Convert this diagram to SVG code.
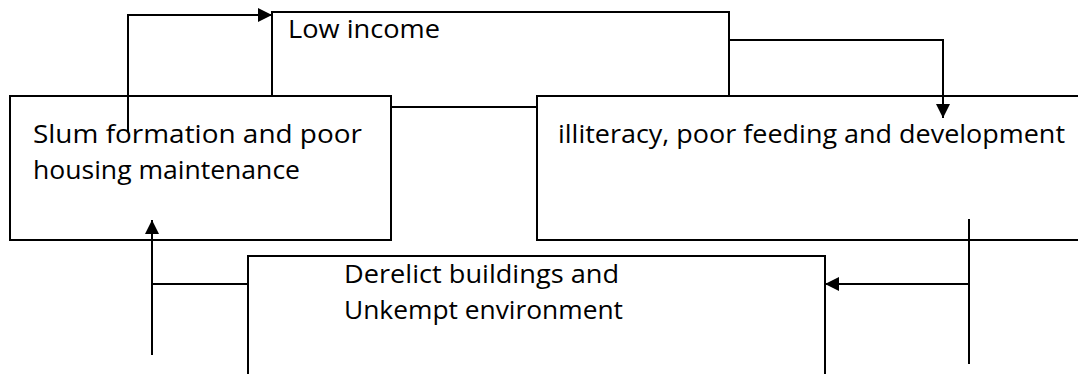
<svg xmlns="http://www.w3.org/2000/svg" width="1078" height="374" viewBox="0 0 1078 374">
<style>
.box{fill:#fff;stroke:#000;stroke-width:2}
.lbl{font-family:"Open Sans","Noto Sans",sans-serif;font-size:25px;fill:#000}
.con{fill:none;stroke:#000;stroke-width:2}
</style>
<defs>
<marker id="ah" viewBox="0 0 10 10" refX="10" refY="5" markerWidth="16" markerHeight="14" markerUnits="userSpaceOnUse" orient="auto">
<path d="M0,0 L10,5 L0,10 Z" fill="#000"/>
</marker>
</defs>
<rect width="1078" height="374" fill="#fff"/>
<g id="low-income">
<rect class="box" x="272" y="12" width="457" height="95"/>
<text class="lbl" x="288" y="38" textLength="152" lengthAdjust="spacingAndGlyphs">Low income</text>
</g>
<g id="slum">
<rect class="box" x="10" y="96" width="381" height="144"/>
<text class="lbl" x="33" y="143" textLength="329" lengthAdjust="spacingAndGlyphs">Slum formation and poor</text>
<text class="lbl" x="33" y="179" textLength="267" lengthAdjust="spacingAndGlyphs">housing maintenance</text>
</g>
<g id="illiteracy">
<rect class="box" x="537" y="96" width="560" height="144"/>
<text class="lbl" x="558" y="143" textLength="507" lengthAdjust="spacingAndGlyphs">illiteracy, poor feeding and development</text>
</g>
<g id="derelict">
<rect class="box" x="248" y="256" width="577" height="140"/>
<text class="lbl" x="344" y="283" textLength="275" lengthAdjust="spacingAndGlyphs">Derelict buildings and</text>
<text class="lbl" x="344" y="319" textLength="279" lengthAdjust="spacingAndGlyphs">Unkempt environment</text>
</g>
<g id="connectors">
<polyline class="con" points="128,133 128,15 272,15" marker-end="url(#ah)"/>
<polyline class="con" points="729,40 943,40 943,118" marker-end="url(#ah)"/>
<line class="con" x1="969" y1="219" x2="969" y2="364"/>
<polyline class="con" points="969,284 825,284" marker-end="url(#ah)"/>
<line class="con" x1="152" y1="355" x2="152" y2="220" marker-end="url(#ah)"/>
<line class="con" x1="152" y1="284" x2="248" y2="284"/>
</g>
</svg>
